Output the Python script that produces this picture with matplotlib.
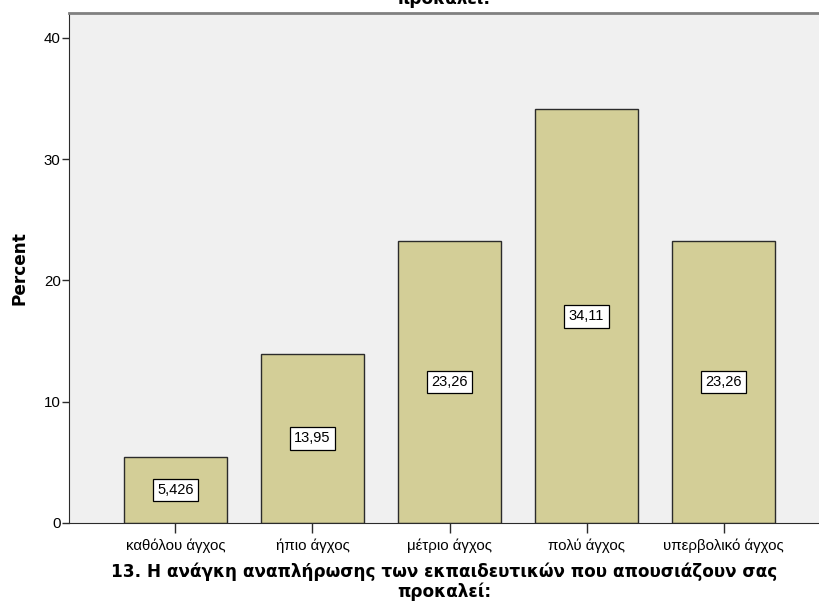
import matplotlib
matplotlib.use("Agg")
import matplotlib.pyplot as plt

# Survey responses (percent)
categories = ["καθόλου άγχος", "ήπιο άγχος", "μέτριο άγχος", "πολύ άγχος", "υπερβολικό άγχος"]
percent = [5.426, 13.95, 23.26, 34.11, 23.26]
y_ticks = [0, 10, 20, 30, 40]
x_title = "13. Η ανάγκη αναπλήρωσης των εκπαιδευτικών που απουσιάζουν σας\nπροκαλεί:"
top_title = "προκαλεί:"

plt.rcParams["font.family"] = ["Liberation Sans", "DejaVu Sans"]
bold_family = ["DejaVu Sans"]

W, H = 820, 606
fig = plt.figure(figsize=(W / 100, H / 100), dpi=100)
left_px, right_px, top_px, bottom_px = 69, 820, 13, 523
ax = fig.add_axes([left_px / W, (H - bottom_px) / H,
                   (right_px - left_px) / W, (bottom_px - top_px) / H])
ax.set_facecolor("#F0F0F0")

x = list(range(len(categories)))
ax.bar(x, percent, width=0.752, color="#D3CE97", edgecolor="#2b2b2b", linewidth=1.0, zorder=2)

for xi, v in zip(x, percent):
    label = f"{v:.4g}".replace(".", ",")
    ax.text(xi, v / 2, label, ha="center", va="center", fontsize=10.5, zorder=3,
            bbox=dict(boxstyle="square,pad=0.3", facecolor="white", edgecolor="black", linewidth=0.9))

ax.set_xlim(-0.777, 4.704)
ax.set_ylim(0, 42.06)
ax.set_xticks(x)
ax.set_xticklabels(categories, fontsize=10.8)
ax.set_yticks(y_ticks)
ax.set_yticklabels([str(t) for t in y_ticks], fontsize=10.8)
ax.tick_params(axis="x", length=7, width=1, color="#2b2b2b", pad=4)
ax.tick_params(axis="y", length=5, width=1, color="#2b2b2b", pad=1)

ax.spines["right"].set_visible(False)
ax.spines["top"].set_color("#808080")
ax.spines["top"].set_linewidth(2)
ax.spines["left"].set_color("#2b2b2b")
ax.spines["bottom"].set_color("#2b2b2b")

ax.set_ylabel("Percent", fontsize=12.2, fontweight="bold", family=bold_family, labelpad=11)
ax.set_xlabel(x_title, fontsize=12.2, fontweight="bold", family=bold_family,
              labelpad=7, linespacing=1.08)

fig.text(443 / W, 1 - 4 / H, top_title, ha="center", va="baseline",
         fontsize=12.2, fontweight="bold", family=bold_family)

fig.savefig("out.png", dpi=100, facecolor="white")
